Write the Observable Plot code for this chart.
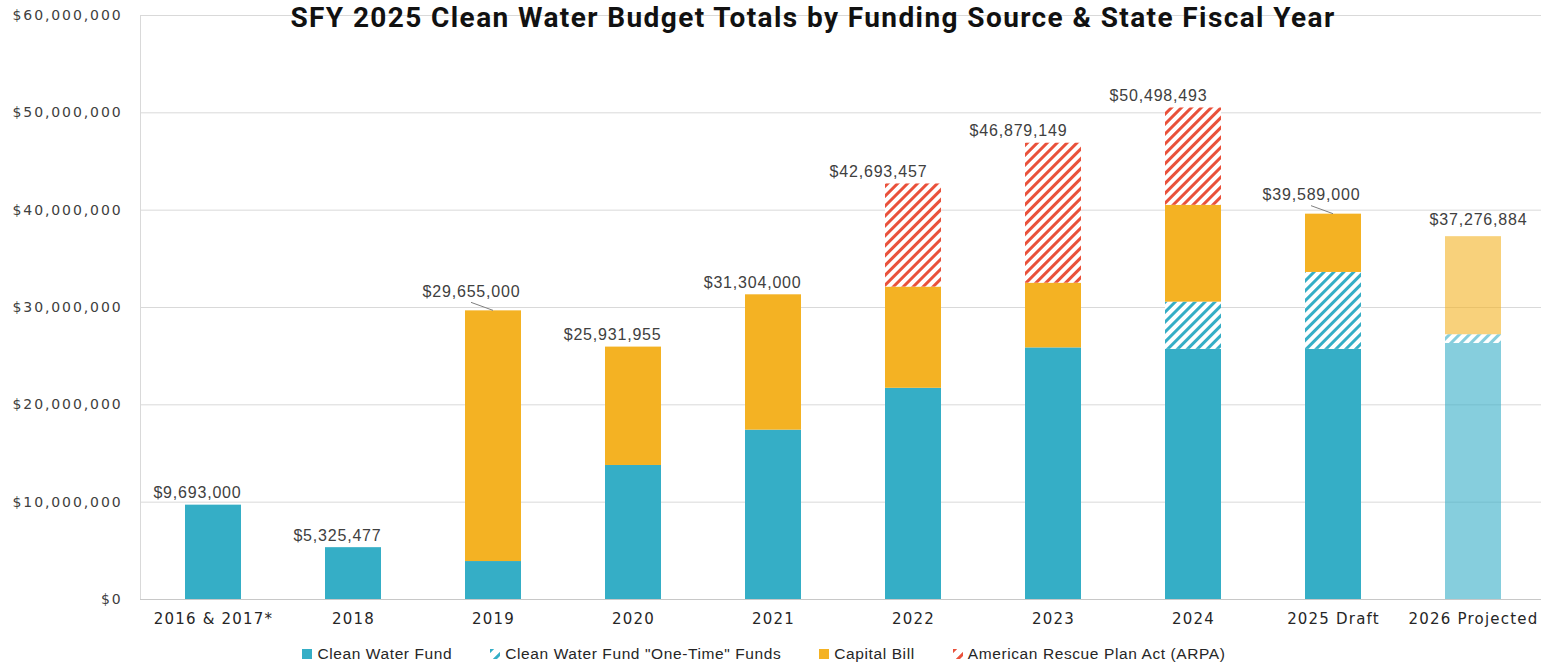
<!DOCTYPE html>
<html>
<head>
<meta charset="utf-8">
<script src="https://cdn.jsdelivr.net/npm/d3@7"></script>
<script src="https://cdn.jsdelivr.net/npm/@observablehq/plot@0.6"></script>
<style>
  html, body { margin: 0; padding: 0; background: #fff; }
  #wrap { position: relative; width: 1541px; height: 664px; overflow: hidden; }
  #title { position: absolute; top: 1px; left: 0; width: 1626px; text-align: center;
    font-family: Roboto, "Noto Sans", sans-serif; font-weight: 700; font-size: 28px; color: #111; letter-spacing: 1.4px; }
  #legend { position: absolute; top: 645px; left: 0; width: 1528px; display: flex; justify-content: center; gap: 38px;
    font-family: "Liberation Sans", Arial, sans-serif; font-size: 15.5px; letter-spacing: 0.6px; color: #262626; }
  #legend .item { display: flex; align-items: center; gap: 5px; }
  #legend svg { display: block; }
</style>
</head>
<body>
<div id="wrap">
  <div id="chart"></div>
  <div id="title">SFY 2025 Clean Water Budget Totals by Funding Source &amp; State Fiscal Year</div>
  <div id="legend"></div>
</div>
<script>
// ---- data ----
const categories = ["2016 & 2017*", "2018", "2019", "2020", "2021", "2022", "2023", "2024", "2025 Draft", "2026 Projected"];
const totals = [9693000, 5325477, 29655000, 25931955, 31304000, 42693457, 46879149, 50498493, 39589000, 37276884];
const cleanWaterFund = [9693000, 5325477, 3900000, 13770000, 17400000, 21700000, 25850000, 25700000, 25700000, 26300000];
const oneTimeFunds = [0, 0, 0, 0, 0, 0, 0, 4850000, 7900000, 900000];
const capitalBill = [0, 0, 25755000, 12161955, 13904000, 10400000, 6650000, 9950000, 5989000, 10076884];
const arpa = [0, 0, 0, 0, 0, 10593457, 14379149, 9998493, 0, 0];
const seriesNames = ["Clean Water Fund", "Clean Water Fund \"One-Time\" Funds", "Capital Bill", "American Rescue Plan Act (ARPA)"];
const yTicks = [0, 10000000, 20000000, 30000000, 40000000, 50000000, 60000000];
const projectedCategory = "2026 Projected";

// ---- label placement groups (styling) ----
const rightAlignedLabels = ["2016 & 2017*", "2018", "2020", "2021"];
const leftShiftedLabels = ["2022", "2023", "2024"];
const leaderLabels = ["2019", "2025 Draft"];

// ---- styles ----
const fills = ["#35AEC6", "url(#hatch-teal)", "#F4B223", "url(#hatch-red)"];
const legendFills = ["#35AEC6", "url(#hatch-teal-s)", "#F4B223", "url(#hatch-red-s)"];

const seriesValues = [cleanWaterFund, oneTimeFunds, capitalBill, arpa];
const rows = [];
categories.forEach((c, i) => {
  seriesValues.forEach((vals, s) => {
    if (vals[i] > 0) rows.push({category: c, series: seriesNames[s], order: s, value: vals[i], fill: fills[s],
      opacity: c === projectedCategory ? 0.6 : 1});
  });
});
const labels = categories.map((c, i) => ({category: c, total: totals[i]}));
const money = v => "$" + d3.format(",")(v);
const labelStyle = {x: "category", y: "total", text: d => money(d.total), fontSize: 16, fill: "#404040", className: "vlab"};

const chart = Plot.plot({
  width: 1541,
  height: 634,
  marginTop: 15,
  marginBottom: 35,
  marginLeft: 140,
  marginRight: -4,
  style: {fontFamily: "'Liberation Sans', Arial, sans-serif", background: "#fff", overflow: "hidden"},
  x: {domain: categories, paddingInner: 0.6, paddingOuter: 0.3, label: null},
  y: {domain: [0, 60000000], label: null},
  color: {type: "identity"},
  marks: [
    Plot.gridY(yTicks, {stroke: "#d9d9d9", strokeOpacity: 1}),
    Plot.frame({anchor: "left", stroke: "#d9d9d9"}),
    Plot.ruleY([0], {stroke: "#c8c8c8"}),
    Plot.barY(rows, Plot.stackY({x: "category", y: "value", order: "order", fill: "fill", fillOpacity: "opacity"})),
    Plot.axisY({ticks: yTicks, tickFormat: money, tickSize: 0, tickPadding: 18, label: null,
      fontFamily: "'DejaVu Sans', sans-serif", fontSize: 14, fill: "#404040", className: "yax"}),
    Plot.axisX({tickSize: 0, tickPadding: 14, label: null, fontFamily: "'DejaVu Sans', sans-serif",
      fontSize: 15, fill: "#262626", className: "xax"}),
    Plot.text(labels.filter(d => rightAlignedLabels.includes(d.category)),
      {...labelStyle, textAnchor: "end", dx: 28, dy: -12}),
    Plot.text(labels.filter(d => leftShiftedLabels.includes(d.category)),
      {...labelStyle, dx: -35, dy: -12}),
    Plot.text(labels.filter(d => leaderLabels.includes(d.category)),
      {...labelStyle, dx: -22, dy: -19}),
    Plot.text(labels.filter(d => d.category === projectedCategory),
      {...labelStyle, dx: 5, dy: -17})
  ]
});

const svg = d3.select(chart);
svg.selectAll(".yax text").style("letter-spacing", "1.9px");
svg.selectAll(".xax text").style("letter-spacing", "1.2px");
svg.selectAll(".vlab text").style("letter-spacing", "0.8px");

// hatch patterns
const defs = svg.insert("defs", ":first-child");
function hatch(id, color, size, sw) {
  const p = defs.append("pattern").attr("id", id).attr("patternUnits", "userSpaceOnUse")
    .attr("width", size).attr("height", size).attr("patternTransform", "rotate(45)");
  p.append("rect").attr("width", size).attr("height", size).attr("fill", "#fff");
  p.append("rect").attr("x", 0).attr("width", sw).attr("height", size).attr("fill", color);
}
hatch("hatch-teal", "#35AEC6", 7, 3);
hatch("hatch-red", "#E9513B", 7, 3);
hatch("hatch-teal-s", "#35AEC6", 9, 3);
hatch("hatch-red-s", "#E9513B", 9, 3);

// leader lines using the plot's scales
const xs = chart.scale("x"), ys = chart.scale("y");
const bw = xs.bandwidth;
labels.filter(d => leaderLabels.includes(d.category)).forEach(d => {
  const cx = xs.apply(d.category) + bw / 2;
  const cy = ys.apply(d.total);
  svg.append("line").attr("x1", cx - 22).attr("y1", cy - 8).attr("x2", cx).attr("y2", cy)
    .attr("stroke", "#7f7f7f").attr("stroke-width", 1);
});

document.getElementById("chart").appendChild(chart);

// legend
const legend = d3.select("#legend");
seriesNames.forEach((name, i) => {
  const item = legend.append("div").attr("class", "item");
  const s = item.append("svg").attr("width", 10).attr("height", 10);
  s.append("rect").attr("width", 10).attr("height", 10).attr("fill", legendFills[i]);
  item.append("span").text(name);
});
</script>
</body>
</html>
